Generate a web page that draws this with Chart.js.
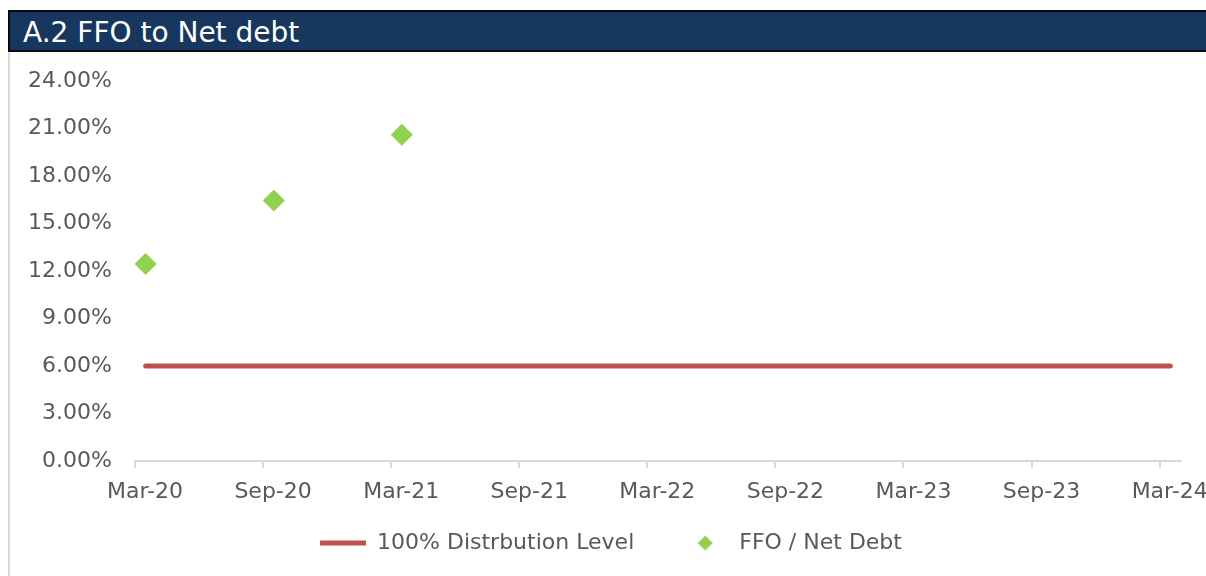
<!DOCTYPE html>
<html>
<head>
<meta charset="utf-8">
<script src="https://cdn.jsdelivr.net/npm/chart.js@4/dist/chart.umd.min.js"></script>
<style>
  html, body { margin: 0; padding: 0; background: #fff; overflow: hidden; }
  body { width: 1206px; height: 576px; position: relative; }
  #title {
    position: absolute; left: 8px; top: 10px; width: 1210px; height: 38px;
    background: #17375E; border: 2px solid #0a0a0a; overflow: hidden;
    color: #fff; font-family: "DejaVu Sans", sans-serif; font-size: 28px;
    line-height: 42px; padding-left: 13px; box-sizing: content-box;
  }
  #panel {
    position: absolute; left: 8px; top: 52px; width: 1198px; height: 524px;
    border-left: 2px solid #d9d9d9;
  }
  #wrap { position: absolute; left: 0; top: 0; width: 1196px; height: 524px; }
</style>
</head>
<body>
<div id="title">A.2 FFO to Net debt</div>
<div id="panel"><div id="wrap"><canvas id="chart"></canvas></div></div>
<script>
// x axis tick labels (half-yearly)
const tickLabels = ['Mar-20', 'Sep-20', 'Mar-21', 'Sep-21', 'Mar-22', 'Sep-22', 'Mar-23', 'Sep-23', 'Mar-24'];

// FFO / Net Debt (%)
const ffoPeriods = ['Mar-20', 'Sep-20', 'Mar-21'];
const ffoValues = [12.45, 16.45, 20.6];

// 100% distribution level (%)
const levelPeriods = ['Mar-20', 'Mar-24'];
const levelValues = [6.0, 6.0];

const monthNames = ['Jan', 'Feb', 'Mar', 'Apr', 'May', 'Jun', 'Jul', 'Aug', 'Sep', 'Oct', 'Nov', 'Dec'];

// months since start of Mar-20, placed at mid-month
function monthPos(label) {
    var parts = label.split('-');
    var m = monthNames.indexOf(parts[0]);
    var y = 2000 + parseInt(parts[1], 10);
    return (y - 2020) * 12 + (m - 2) + 0.5;
}

function toPoints(periods, values) {
    return periods.map(function (p, i) {
        return { x: monthPos(p), y: values[i] };
    });
}

const textColor = '#595959';
const green = '#92D050';
const red = '#C0504D';
Chart.defaults.font.family = '"DejaVu Sans", sans-serif';
Chart.defaults.font.size = 22;
Chart.defaults.color = textColor;

// small diamond for the legend (rectRot gets stretched by pointStyleWidth)
var diamondIcon = document.createElement('canvas');
diamondIcon.width = 16;
diamondIcon.height = 16;
(function () {
    var c = diamondIcon.getContext('2d');
    c.fillStyle = green;
    c.beginPath();
    c.moveTo(8, 0.5);
    c.lineTo(15.5, 8);
    c.lineTo(8, 15.5);
    c.lineTo(0.5, 8);
    c.closePath();
    c.fill();
})();

// let x labels draw below the shortened x axis box
const labelClip = {
    id: 'labelClip',
    afterLayout: function (chart) {
        chart.scales.x.bottom = chart.height;
    }
};

new Chart(document.getElementById('chart'), {
    type: 'line',
    data: {
        datasets: [{
            label: '100% Distrbution Level',
            data: toPoints(levelPeriods, levelValues),
            borderColor: red,
            backgroundColor: red,
            borderWidth: 5,
            borderCapStyle: 'round',
            pointRadius: 0,
            pointStyle: 'line',
            fill: false
        }, {
            label: 'FFO / Net Debt',
            data: toPoints(ffoPeriods, ffoValues),
            showLine: false,
            pointStyle: 'rectRot',
            pointRadius: 10.5,
            pointBackgroundColor: green,
            pointBorderColor: green,
            backgroundColor: green,
            borderColor: green,
            borderWidth: 1
        }]
    },
    plugins: [labelClip],
    options: {
        animation: false,
        responsive: true,
        maintainAspectRatio: false,
        layout: { padding: { left: 6, right: 0, top: 29, bottom: 12 } },
        plugins: {
            tooltip: { enabled: false },
            legend: {
                position: 'bottom',
                labels: {
                    usePointStyle: true,
                    pointStyleWidth: 46,
                    boxHeight: 11,
                    padding: 48,
                    color: textColor,
                    font: { size: 22 },
                    generateLabels: function (chart) {
                        var items = Chart.defaults.plugins.legend.labels.generateLabels(chart);
                        items[1].pointStyle = diamondIcon;
                        return items;
                    }
                }
            }
        },
        scales: {
            x: {
                type: 'linear',
                min: 0,
                max: 49,
                afterBuildTicks: function (scale) {
                    scale.ticks = tickLabels.map(function (_, i) { return { value: i * 6 }; });
                },
                afterFit: function (scale) {
                    scale.height = 23;
                    scale.paddingLeft = 0;
                    scale.paddingRight = 25;
                },
                grid: { drawOnChartArea: false, drawTicks: true, tickLength: 7, color: '#d9d9d9', lineWidth: 2 },
                border: { display: true, color: '#d9d9d9', width: 2 },
                ticks: {
                    autoSkip: false,
                    maxRotation: 0,
                    labelOffset: 10,
                    padding: 11,
                    callback: function (value, index) { return tickLabels[index]; }
                }
            },
            y: {
                min: 0,
                max: 24,
                afterFit: function (scale) {
                    scale.width = 119;
                    scale.paddingTop = 0;
                    scale.paddingBottom = 0;
                },
                grid: { display: false, drawTicks: false },
                border: { display: false },
                ticks: {
                    stepSize: 3,
                    padding: 23,
                    callback: function (value) { return value.toFixed(2) + '%'; }
                }
            }
        }
    }
});
</script>
</body>
</html>
